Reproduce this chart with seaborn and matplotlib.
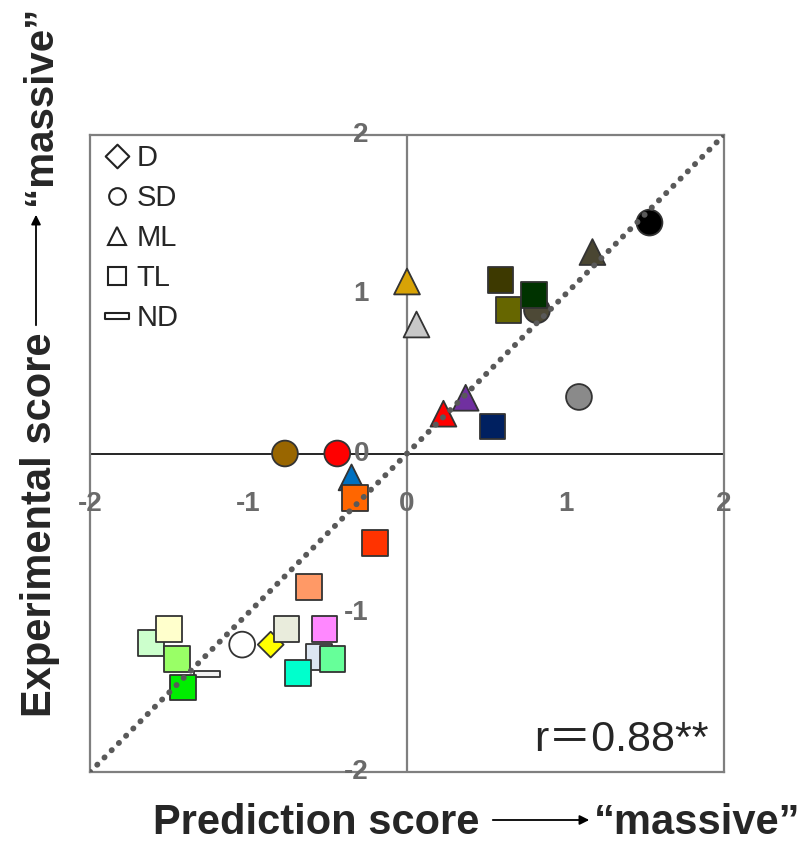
import matplotlib
matplotlib.use("Agg")
import matplotlib.pyplot as plt
import seaborn as sns
import pandas as pd
from matplotlib.path import Path
from matplotlib.lines import Line2D
from matplotlib.patches import FancyArrowPatch

# ---------------- data ----------------
pred_x = [0.82, 0.59, 0.64, 0.80, 1.53, 1.17, 0.00, 0.06, 1.085, 0.37, 0.23, 0.54,
          -0.77, -0.44, -0.35, -0.33, -0.20, -0.62,
          -1.615, -1.50, -1.45, -1.26, -1.413, -1.04, -0.86, -0.76, -0.52, -0.555, -0.47, -0.69]
exp_y = [0.90, 1.09, 0.90, 0.995, 1.45, 1.265, 1.08, 0.81, 0.355, 0.35, 0.25, 0.17,
         0.0, 0.0, -0.15, -0.28, -0.56, -0.84,
         -1.19, -1.10, -1.29, -1.385, -1.47, -1.20, -1.20, -1.10, -1.10, -1.28, -1.29, -1.38]
shape = ["SD", "TL", "TL", "TL", "SD", "ML", "ML", "ML", "SD", "ML", "ML", "TL",
         "SD", "SD", "ML", "TL", "TL", "TL",
         "TL", "TL", "TL", "ND", "TL", "SD", "D", "TL", "TL", "TL", "TL", "TL"]
colors = ["#4d4936", "#3d3900", "#666600", "#003300", "#000000", "#4a4632", "#d8a306", "#c8c8c8",
          "#8a8a8a", "#7030a0", "#ff0000", "#002060",
          "#996600", "#ff0000", "#0070c0", "#ff6600", "#ff3300", "#ff9966",
          "#ccffcc", "#ffffcc", "#99ff66", "#f2f2f2", "#00ee00", "#ffffff", "#ffff00",
          "#e9ecdc", "#ff88ff", "#dce6f2", "#66ff99", "#00ffcc"]
legend_labels = ["D", "SD", "ML", "TL", "ND"]
tick_values = [-2, -1, 0, 1, 2]
tick_labels = ["-2", "-1", "0", "1", "2"]
r_text = "r\uff1d0.88**"
xlabel_main = "Prediction score"
ylabel_main = "Experimental score"
label_tail = "\u201cmassive\u201d"

# ---------------- setup ----------------
sns.set_theme(style="white")
plt.rcParams["font.family"] = ["Liberation Sans", "DejaVu Sans"]

W, H = 808, 843
fig = plt.figure(figsize=(W / 100, H / 100), dpi=100)
ax = fig.add_axes([90 / W, 1 - 772 / H, (724 - 90) / W, (772 - 135) / H])

def fx(px):
    return px / W

def fy(py):
    return 1 - py / H

diamond = Path([(0, 1), (1, 0), (0, -1), (-1, 0), (0, 1)],
               [Path.MOVETO, Path.LINETO, Path.LINETO, Path.LINETO, Path.CLOSEPOLY])
nd_rect = Path([(-1, -0.24), (1, -0.24), (1, 0.24), (-1, 0.24), (-1, -0.24)],
               [Path.MOVETO, Path.LINETO, Path.LINETO, Path.LINETO, Path.CLOSEPOLY])
marker_map = {"D": diamond, "SD": "o", "ML": "^", "TL": "s", "ND": nd_rect}

df = pd.DataFrame({"x": pred_x, "y": exp_y, "shape": shape,
                   "pid": [f"p{i}" for i in range(len(pred_x))]})
palette = dict(zip(df["pid"], colors))

# zero lines
ax.axvline(0, color="#7f7f7f", lw=1.6, zorder=1)
ax.axhline(0, color="#000000", lw=1.2, zorder=1)

sns.scatterplot(data=df, x="x", y="y", hue="pid", style="shape", palette=palette,
                markers=marker_map, s=345, edgecolor="#333333", linewidth=1.3,
                legend=False, ax=ax, zorder=3)

# identity reference line
lims = [tick_values[0], tick_values[-1]]
ax.plot(lims, lims, color="#595959", lw=4.2, linestyle=(0, (0.05, 1.7)),
        dash_capstyle="round", zorder=4)

ax.set_xlim(lims)
ax.set_ylim(lims)
ax.set_xticks([])
ax.set_yticks([])
ax.set_xlabel("")
ax.set_ylabel("")
for sp in ax.spines.values():
    sp.set_color("#7f7f7f")
    sp.set_linewidth(1.6)

# tick labels along the zero lines
for v, t in zip(tick_values, tick_labels):
    ax.text(v, -0.32, t, ha="center", va="center", fontsize=20, fontweight="bold",
            color="#6a6a6a", zorder=5)
    ax.text(-0.24, v, t, ha="right", va="center", fontsize=20, fontweight="bold",
            color="#6a6a6a", zorder=5)

# legend
handles = []
legend_sizes = {"D": 17, "SD": 12, "ML": 13, "TL": 13, "ND": 17}
for lab in legend_labels:
    handles.append(Line2D([], [], linestyle="none", marker=marker_map[lab],
                          markersize=legend_sizes[lab], markerfacecolor="white",
                          markeredgecolor="#222222", markeredgewidth=1.5))
leg = ax.legend(handles, legend_labels, loc="upper left", bbox_to_anchor=(-0.012, 1.018),
                frameon=False, fontsize=21, handlelength=1.0, handletextpad=0.15,
                labelspacing=0.41, borderaxespad=0.3)

# correlation text
ax.text(0.975, 0.05, r_text, transform=ax.transAxes, ha="right", va="center",
        fontsize=31, family=["Liberation Sans", "Noto Sans CJK JP"])

# axis labels with arrows
fig.text(fx(316), fy(834), xlabel_main, ha="center", va="baseline",
         fontsize=30, fontweight="bold")
fig.text(fx(697), fy(834), label_tail, ha="center", va="baseline",
         fontsize=30, fontweight="bold")
fig.add_artist(FancyArrowPatch((fx(490), fy(820)), (fx(592), fy(820)),
                               transform=fig.transFigure, arrowstyle="-|>",
                               mutation_scale=14, lw=1.3, color="black"))

fig.text(fx(51), fy(525), ylabel_main, ha="center", va="baseline", rotation=90,
         rotation_mode="anchor", fontsize=30, fontweight="bold")
fig.text(fx(51), fy(6), label_tail, ha="right", va="baseline", rotation=90,
         rotation_mode="anchor", fontsize=29, fontweight="bold")
fig.add_artist(FancyArrowPatch((fx(36), fy(328)), (fx(36), fy(212)),
                               transform=fig.transFigure, arrowstyle="-|>",
                               mutation_scale=14, lw=1.3, color="black"))

fig.savefig("out.png", dpi=100)
